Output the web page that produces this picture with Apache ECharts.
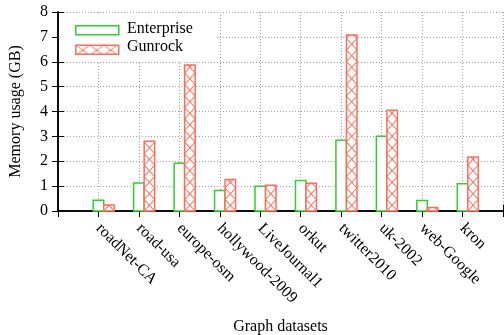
<!DOCTYPE html>
<html>
<head>
<meta charset="utf-8">
<script src="https://cdn.jsdelivr.net/npm/echarts@6/dist/echarts.min.js"></script>
<style>html,body{margin:0;padding:0;background:#fff;}#c{width:504px;height:335px;}</style>
</head>
<body>
<div id="c"></div>
<script>
const categories = ['roadNet-CA','road-usa','europe-osm','hollywood-2009','LiveJournal1','orkut','twitter2010','uk-2002','web-Google','kron'];
const seriesNames = ['Enterprise','Gunrock'];
const enterprise = [0.43, 1.13, 1.92, 0.82, 1.00, 1.23, 2.84, 3.01, 0.42, 1.10];
const gunrock    = [0.24, 2.80, 5.87, 1.27, 1.04, 1.12, 7.08, 4.05, 0.14, 2.17];
const yTicks = [0,1,2,3,4,5,6,7,8];

const GREEN = '#33cc33';
const RED = '#fa6e5a';
const FONT = 'Liberation Serif';
const BW = 0.26;     // bar width in x units
const CH = 11.5;     // hatch cell height px

function makePattern(){
  const c = document.createElement('canvas');
  c.width = 14; c.height = 10;
  const g = c.getContext('2d');
  g.fillStyle = '#fff'; g.fillRect(0,0,14,10);
  g.strokeStyle = RED; g.lineWidth = 1;
  g.beginPath(); g.moveTo(0,0); g.lineTo(14,10); g.moveTo(14,0); g.lineTo(0,10); g.stroke();
  return {image: c, repeat: 'repeat'};
}

const chart = echarts.init(document.getElementById('c'), null, {renderer:'canvas'});

function entItem(params, api){
  const x = api.value(0), v = api.value(1);
  const a = api.coord([x - BW/2, v]);
  const b = api.coord([x + BW/2, 0]);
  return {type:'rect', shape:{x:a[0], y:a[1], width:b[0]-a[0], height:b[1]-a[1]},
    style:{fill:'#fff', stroke:GREEN, lineWidth:1.5}};
}
function gunItem(params, api){
  const x = api.value(0), v = api.value(1);
  const a = api.coord([x - BW/2, v]);
  const b = api.coord([x + BW/2, 0]);
  const L = a[0], R = b[0], top = a[1], bot = b[1], w = R - L;
  const children = [{type:'rect', shape:{x:L, y:top, width:w, height:bot-top},
    style:{fill:'#fff', stroke:null}}];
  for (let y0 = bot; y0 > top + 0.01; y0 -= CH){
    let y1 = y0 - CH, t = 1;
    if (y1 < top){ t = (y0 - top)/CH; y1 = top; }
    children.push({type:'line', shape:{x1:L, y1:y0, x2:L + t*w, y2:y1}, style:{stroke:RED, lineWidth:1.1}});
    children.push({type:'line', shape:{x1:R, y1:y0, x2:R - t*w, y2:y1}, style:{stroke:RED, lineWidth:1.1}});
  }
  children.push({type:'rect', shape:{x:L, y:top, width:w, height:bot-top},
    style:{fill:null, stroke:RED, lineWidth:1.5}});
  return {type:'group', children};
}

const axisLine = {show:true, lineStyle:{color:'#000', width:1.5}};
const tick = {show:true, inside:true, length:6, lineStyle:{color:'#000', width:1}};
const dotted = {show:true, lineStyle:{color:'#a0a0a0', width:1, type:[1,2]}};

chart.setOption({
  animation:false,
  backgroundColor:'#fff',
  textStyle:{fontFamily:FONT, color:'#000'},
  grid:{left:58, right:1, top:12, bottom:124, containLabel:false, outerBoundsMode:'none'},
  legend:{
    orient:'vertical', left:59, top:13, selectedMode:false,
    padding:[12,92,6,16], itemGap:9, itemWidth:43, itemHeight:9,
    backgroundColor:'#fff', icon:'rect',
    formatter:() => '',
    textStyle:{fontSize:9, lineHeight:9},
    data:[
      {name:seriesNames[0], itemStyle:{color:'#fff', borderColor:GREEN, borderWidth:1.5}},
      {name:seriesNames[1], itemStyle:{color:makePattern(), borderColor:RED, borderWidth:1.5}}
    ]
  },
  graphic:[
    {type:'text', z:100, left:127, top:21, style:{text:seriesNames[0], font:'16px "Liberation Serif"', fill:'#000'}},
    {type:'text', z:100, left:127, top:39, style:{text:seriesNames[1], font:'16px "Liberation Serif"', fill:'#000'}}
  ],
  xAxis:[
    {type:'value', min:0, max:11, interval:1, position:'bottom',
     axisLine:axisLine, axisTick:tick, splitLine:dotted,
     name:'Graph datasets', nameLocation:'middle', nameGap:108,
     nameTextStyle:{fontFamily:FONT, fontSize:16, color:'#000'},
     axisLabel:{show:true, rotate:-45, margin:15, verticalAlign:'middle',
       fontFamily:FONT, fontSize:16, color:'#000',
       formatter:v => categories[v-1] || ''}},
    {type:'value', min:0, max:11, interval:1, position:'top',
     axisLine:axisLine, axisTick:tick, splitLine:{show:false}, axisLabel:{show:false}}
  ],
  yAxis:[
    {type:'value', min:yTicks[0], max:yTicks[yTicks.length-1], interval:1, position:'left',
     axisLine:axisLine, axisTick:tick, splitLine:dotted,
     name:'Memory usage (GB)', nameLocation:'middle', nameGap:34, nameRotate:90,
     nameTextStyle:{fontFamily:FONT, fontSize:16, color:'#000'},
     axisLabel:{margin:10, fontFamily:FONT, fontSize:16, color:'#000'}},
    {type:'value', min:yTicks[0], max:yTicks[yTicks.length-1], interval:1, position:'right',
     axisLine:axisLine, axisTick:tick, splitLine:{show:false}, axisLabel:{show:false}}
  ],
  series:[
    {name:seriesNames[0], type:'custom', xAxisIndex:0, yAxisIndex:0, renderItem:entItem,
     itemStyle:{color:GREEN}, encode:{x:0, y:1},
     data:enterprise.map((v,i)=>[i+1, v])},
    {name:seriesNames[1], type:'custom', xAxisIndex:0, yAxisIndex:0, renderItem:gunItem,
     itemStyle:{color:RED}, encode:{x:0, y:1},
     data:gunrock.map((v,i)=>[i+1+BW, v])}
  ]
});
</script>
</body>
</html>
